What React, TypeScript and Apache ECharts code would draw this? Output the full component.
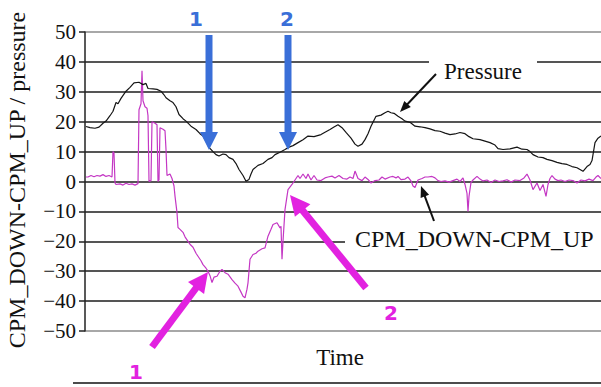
import React, { useEffect, useRef } from "react";
import * as echarts from "echarts";

// Time axis (arbitrary sample units) and values
const pressureTime = [1,5,10,14,18,21,25,28,31,33,36,41,45,49,54,58,61,63,68,72,76,79,81,85,88,91,94,98,101,106,111,115,118,121,124,128,131,134,138,141,144,148,151,154,158,161,164,166,168,173,178,183,187,190,195,200,204,208,213,218,223,229,236,240,245,249,253,257,261,266,270,273,277,280,283,286,289,291,296,300,303,306,309,313,317,320,325,330,335,340,345,350,355,360,365,370,375,380,384,388,395,400,405,410,413,418,425,432,437,442,445,448,453,458,462,467,472,477,482,487,492,495,498,502,505,507,508,510,513,516];
const pressureValue = [18.4,18.0,17.8,18.2,19.5,20.2,22.0,23.5,26.4,26.0,27.8,30.2,31.5,33.0,33.2,32.4,32.8,31.1,31.0,30.8,30.2,29.0,28.0,27.0,26.4,25.0,22.4,21.0,20.2,18.5,17.4,16.0,15.2,13.5,11.4,10.0,9.0,8.5,9.2,9.0,8.0,7.4,6.0,4.0,2.0,0.1,0.7,2.5,4.0,5.4,6.0,7.4,8.0,9.0,9.8,10.7,11.5,12.0,13.0,14.0,15.2,15.0,15.7,16.5,17.4,18.2,19.0,18.0,16.4,14.5,12.5,11.8,12.5,14.0,16.0,18.5,20.5,21.8,22.2,23.0,23.5,23.0,22.8,21.8,21.0,20.2,19.8,18.5,18.3,18.0,17.6,17.0,16.8,16.2,15.7,15.9,16.4,16.0,15.0,14.3,14.0,13.5,13.0,12.2,11.0,10.7,10.9,11.5,10.8,10.7,10.0,9.0,8.2,8.0,7.4,7.0,6.4,6.0,5.7,5.0,4.6,4.0,3.4,5.0,5.7,7.0,9.0,13.0,14.5,15.2];

const cpmTime = [1,3,6,9,12,15,18,21,24,27,28,29,30,31,35,38,41,44,47,50,53,54,56,57,58,60,62,63,64,66,67,70,72,73,74,75,78,80,81,82,85,87,89,90,92,93,95,98,100,103,105,108,111,113,116,118,121,123,125,127,129,132,135,137,140,143,147,150,153,156,158,160,162,163,165,168,171,173,177,180,183,186,188,192,195,196,197,198,200,203,207,210,213,215,218,221,223,226,229,232,236,240,243,247,250,254,258,262,265,268,270,273,277,280,283,286,290,294,297,300,305,308,311,313,316,320,323,326,328,330,333,337,340,343,347,350,353,356,360,364,368,372,375,378,380,382,383,384,386,388,392,395,398,402,406,410,414,418,422,426,430,435,439,442,445,448,452,455,458,461,463,465,467,470,473,476,480,484,488,492,496,500,504,508,511,513,516];
const cpmValue = [1.5,1.5,2.0,1.6,2.0,1.8,2.3,1.7,2.0,1.5,10.0,9.5,-0.5,-1.0,-0.8,-1.2,-0.6,-1.0,-0.8,-1.2,-0.7,24,26,37,27,25,24.5,22,0,0.3,20,19.5,19,0,0.5,18,17.5,17,10.7,2,2.5,1,-1.5,-4.9,-10.4,-15.4,-16,-17,-18.5,-20,-21,-22,-24,-25,-26.5,-27.8,-29,-30,-31.5,-33.8,-32,-31.7,-30,-29.4,-30.5,-31,-32.8,-34,-35,-37,-38.4,-38.9,-36,-33.9,-26,-24.4,-24,-23.3,-22.5,-22.2,-18.3,-16,-14.4,-13.8,-15.5,-15,-26,-20,-9.4,-2.7,-1,0.5,2,1,2.5,1,2.5,0.5,2,0.5,0.3,1.2,1.5,1.8,1.2,2,1,0.8,1.5,1,3.5,1,0.3,1.5,0.7,-0.5,0.3,0.5,1.5,0.8,1.5,1.7,1.2,1.7,0.6,0.8,1.5,0.2,-1.5,-2,0.5,1,1.5,1.5,1.7,1.2,0.3,0,0.2,-0.2,0.3,0.8,0,1.2,-1,-4,-10,-5,-0.3,0.5,1.7,0.8,0.2,0.5,-0.3,0.5,0,0.2,0.6,-0.2,0.5,0.3,1.2,2.5,0.5,-2.7,-0.5,-3,-1,-5,-1,1,2,0.8,0.3,0.5,0,0.5,0.3,-0.5,0.5,0.2,0.8,0.3,1.5,2,1];

const yTicks = { min: -50, max: 50, step: 10 };
const yName = "CPM_DOWN-CPM_UP / pressure";
const xName = "Time";
const pressureLabel = "Pressure";
const cpmLabel = "CPM_DOWN-CPM_UP";

const SERIF = "Liberation Serif";
const BLUE = "#3a6fd8";
const MAGENTA = "#e222e0";

function arrow(x1: number, y1: number, x2: number, y2: number, w: number, hl: number, hw: number, color: string) {
  const dx = x2 - x1, dy = y2 - y1;
  const len = Math.sqrt(dx * dx + dy * dy);
  const ux = dx / len, uy = dy / len;
  const bx = x2 - ux * hl, by = y2 - uy * hl;
  const px = -uy, py = ux;
  return [
    { type: "line", shape: { x1, y1, x2: bx + ux * 1, y2: by + uy * 1 }, style: { stroke: color, lineWidth: w, lineCap: "butt" }, z: 50 },
    { type: "polygon", shape: { points: [[x2, y2], [bx + px * hw / 2, by + py * hw / 2], [bx - px * hw / 2, by - py * hw / 2]] }, style: { fill: color }, z: 50 },
  ];
}

function txt(x: number, y: number, text: string, size: number, family: string, fill: string, align: string, extra: any = {}) {
  return {
    type: "text", x, y, z: 51, ...extra,
    style: { text, fontSize: size, fontFamily: family, fontWeight: extra.bold ? "bold" : "normal", fill, align, verticalAlign: "middle" },
  };
}

export default function App() {
  const ref = useRef<HTMLDivElement>(null);
  useEffect(() => {
    if (!ref.current) return;
    const chart = echarts.init(ref.current, null, { renderer: "svg" });
    const nLines = Math.round((yTicks.max - yTicks.min) / yTicks.step) + 1;
    const splitColors = Array.from({ length: nLines }, (_, i) => (i === 0 || i === nLines - 1 ? "#a8a8a8" : "#555555"));
    const option: any = {
      animation: false,
      backgroundColor: "#ffffff",
      grid: { left: 85, top: 32, width: 516, height: 299, containLabel: false },
      xAxis: { type: "value", min: 0, max: 516, show: false },
      yAxis: {
        type: "value",
        min: yTicks.min,
        max: yTicks.max,
        interval: yTicks.step,
        axisLine: { show: true, lineStyle: { color: "#222", width: 1.5 } },
        axisTick: { show: true, length: 6, lineStyle: { color: "#222", width: 1.5 } },
        axisLabel: {
          fontFamily: SERIF, fontSize: 21, color: "#111", margin: 9,
          formatter: (v: number) => (v < 0 ? "\u2212" + Math.abs(v) : String(v)),
        },
        splitLine: { show: true, lineStyle: { color: splitColors, width: 2 } },
      },
      series: [
        {
          type: "line", name: cpmLabel, showSymbol: false, z: 3,
          data: cpmTime.map((t, i) => [t, cpmValue[i]]),
          lineStyle: { color: "#c437c4", width: 1.2 },
        },
        {
          type: "line", name: pressureLabel, showSymbol: false, z: 4,
          data: pressureTime.map((t, i) => [t, pressureValue[i]]),
          lineStyle: { color: "#151515", width: 1.2 },
        },
      ],
      graphic: [
        { type: "rect", shape: { x: 429, y: 56, width: 108, height: 32 }, style: { fill: "#fff" }, z: 20 },
        txt(483, 71, pressureLabel, 23, SERIF, "#111", "center"),
        { type: "rect", shape: { x: 345, y: 224, width: 260, height: 32 }, style: { fill: "#fff" }, z: 20 },
        txt(355, 239, cpmLabel, 24, SERIF, "#111", "left"),
        txt(340, 357, xName, 23, SERIF, "#111", "center"),
        txt(17, 180, yName, 24, SERIF, "#111", "center", { rotation: Math.PI / 2 }),
        { type: "line", shape: { x1: 73, y1: 383, x2: 601, y2: 383 }, style: { stroke: "#111", lineWidth: 1.5 }, z: 21 },
        ...arrow(209, 35, 209, 150, 7, 18, 18, BLUE),
        ...arrow(288, 35, 288, 150, 7, 18, 18, BLUE),
        ...arrow(152, 347, 208, 272, 7, 20, 20, MAGENTA),
        ...arrow(366, 288, 290, 195, 7, 20, 20, MAGENTA),
        ...arrow(436, 74, 400, 112, 2, 11, 9, "#111"),
        ...arrow(434, 221, 421, 186, 2, 11, 9, "#111"),
        txt(196, 19, "1", 20, "DejaVu Sans", BLUE, "center", { bold: true }),
        txt(287, 19, "2", 20, "DejaVu Sans", BLUE, "center", { bold: true }),
        txt(136, 372, "1", 20, "DejaVu Sans", MAGENTA, "center", { bold: true }),
        txt(391, 313, "2", 20, "DejaVu Sans", MAGENTA, "center", { bold: true }),
      ],
    };
    chart.setOption(option);
    return () => chart.dispose();
  }, []);
  return <div ref={ref} style={{ position: "fixed", left: 0, top: 0, width: 601, height: 387, background: "#fff" }} />;
}
